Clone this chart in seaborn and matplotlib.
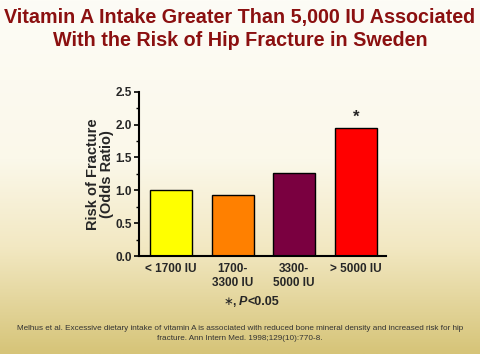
import numpy as np
import pandas as pd
import matplotlib
matplotlib.use("Agg")
import matplotlib.pyplot as plt
from matplotlib.colors import LinearSegmentedColormap
from matplotlib.ticker import MultipleLocator
import seaborn as sns

categories = ["< 1700 IU", "1700-\n3300 IU", "3300-\n5000 IU", "> 5000 IU"]
odds_ratio = [1.0, 0.93, 1.26, 1.95]
bar_colors = ["#FFFF00", "#FF8000", "#7A0040", "#FF0000"]
title = "Vitamin A Intake Greater Than 5,000 IU Associated\nWith the Risk of Hip Fracture in Sweden"
ylabel = "Risk of Fracture\n(Odds Ratio)"
footnote = ("Melhus et al. Excessive dietary intake of vitamin A is associated with reduced bone mineral density and increased risk for hip\n"
            "fracture. Ann Intern Med. 1998;129(10):770-8.")

sns.set_theme(style="ticks")
plt.rcParams['font.family'] = ['Liberation Sans', 'DejaVu Sans']

fig = plt.figure(figsize=(4.8, 3.54), dpi=100)

# background gradient
bg = fig.add_axes([0, 0, 1, 1], zorder=-10)
cmap = LinearSegmentedColormap.from_list(
    "bg", [(0.0, "#FDFCF6"), (0.45, "#FBF8EA"), (0.7, "#F2E8C2"), (1.0, "#D6C478")])
grad = np.linspace(0, 1, 256).reshape(-1, 1)
bg.imshow(grad, aspect="auto", cmap=cmap, extent=[0, 1, 0, 1], origin="upper")
bg.set_axis_off()

ax = fig.add_axes([0.2896, 0.2768, 0.5146, 0.4642])
ax.patch.set_alpha(0)
df = pd.DataFrame({"cat": categories, "val": odds_ratio})
sns.barplot(data=df, x="cat", y="val", hue="cat", palette=bar_colors,
            width=0.68, edgecolor="black", linewidth=1.0, legend=False, ax=ax,
            saturation=1)

ax.set_ylim(0, 2.5)
ax.set_xlim(-0.52, 3.49)
ax.yaxis.set_major_locator(MultipleLocator(0.5))
ax.yaxis.set_minor_locator(MultipleLocator(0.25))
ax.set_yticks([0, 0.5, 1.0, 1.5, 2.0, 2.5])
ax.set_yticklabels(["0.0", "0.5", "1.0", "1.5", "2.0", "2.5"], fontsize=8.5, fontweight="bold")
ax.tick_params(axis="y", which="major", length=3.5, width=1.2, pad=1.5, color="black")
ax.tick_params(axis="y", which="minor", length=2, width=1.0, color="black")
ax.tick_params(axis="x", length=0, pad=5)
for lab in ax.get_xticklabels():
    lab.set_fontsize(8.5)
    lab.set_fontweight("bold")
ax.set_xlabel("")
ax.set_ylabel(ylabel, fontsize=10.5, fontweight="bold", labelpad=1, linespacing=1.0)
sns.despine(ax=ax)
for s in ["left", "bottom"]:
    ax.spines[s].set_linewidth(1.5)
    ax.spines[s].set_color("black")

ax.text(3, odds_ratio[3] + 0.04, "*", ha="center", va="bottom", fontsize=12, fontweight="bold")

fig.text(0.5, 0.978, title, ha="center", va="top", fontsize=14.2, fontweight="bold",
         color="#8B1010", linespacing=1.25)
fig.text(0.497, 0.148, "$\\ast$, ", ha="right", va="center", fontsize=8.5, fontweight="bold")
fig.text(0.497, 0.148, "P", ha="left", va="center", fontsize=9, fontweight="bold", style="italic")
fig.text(0.516, 0.148, "<0.05", ha="left", va="center", fontsize=9, fontweight="bold")
fig.text(0.5, 0.058, footnote, ha="center", va="center", fontsize=5.9, color="#333333",
         linespacing=1.65)

fig.savefig("out.png", dpi=100)
